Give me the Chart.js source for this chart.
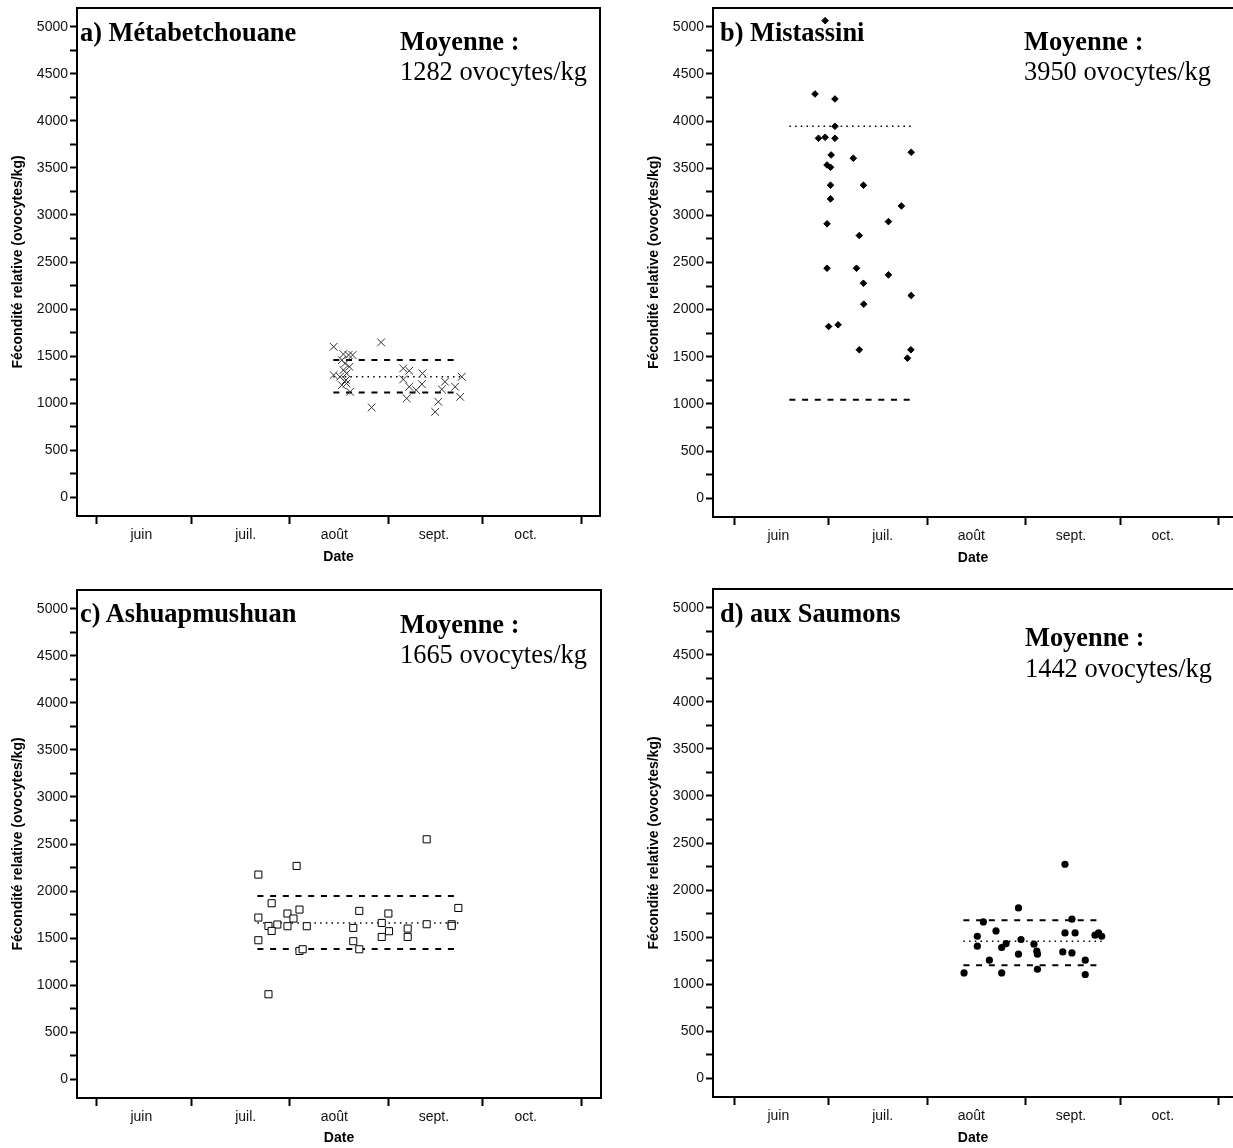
<!DOCTYPE html>
<html lang="fr">
<head>
<meta charset="UTF-8">
<title>Fécondité relative</title>
<script src="https://cdn.jsdelivr.net/npm/chart.js"></script>
<style>
  body {
    margin: 0;
    background: #fff;
    overflow: hidden;
    width: 1233px;
    height: 1148px;
    position: relative;
  }
  .panel { position: absolute; }
  .panel canvas { display: block; }
  .lbl {
    position: absolute;
    font-family: 'Liberation Serif', 'Times New Roman', serif;
    font-size: 26.4px;
    line-height: 26px;
    color: #000;
    white-space: nowrap;
  }
  .gras { font-weight: bold; }
</style>
</head>
<body>

<div class="panel" style="left:0;top:0"><canvas id="gA" width="616" height="576"></canvas></div>
<div class="panel" style="left:636px;top:0"><canvas id="gB" width="597" height="577"></canvas></div>
<div class="panel" style="left:0;top:582px"><canvas id="gC" width="617" height="566"></canvas></div>
<div class="panel" style="left:636px;top:581px"><canvas id="gD" width="597" height="566"></canvas></div>

<div class="lbl gras" style="left:80px;top:19px">a) Métabetchouane</div>
<div class="lbl gras" style="left:400px;top:28px">Moyenne :</div>
<div class="lbl" style="left:400px;top:58px">1282 ovocytes/kg</div>

<div class="lbl gras" style="left:720px;top:19px">b) Mistassini</div>
<div class="lbl gras" style="left:1024px;top:28px">Moyenne :</div>
<div class="lbl" style="left:1024px;top:58px">3950 ovocytes/kg</div>

<div class="lbl gras" style="left:80px;top:600px">c) Ashuapmushuan</div>
<div class="lbl gras" style="left:400px;top:611px">Moyenne :</div>
<div class="lbl" style="left:400px;top:641px">1665 ovocytes/kg</div>

<div class="lbl gras" style="left:720px;top:600px">d) aux Saumons</div>
<div class="lbl gras" style="left:1025px;top:624px">Moyenne :</div>
<div class="lbl" style="left:1025px;top:655px">1442 ovocytes/kg</div>

<script>
  // axe des dates : jours depuis le 1er juin
  const mois = ['juin', 'juil.', 'août', 'sept.', 'oct.'];
  const debutsMois = [0, 30, 61, 92, 122, 153];
  const milieuxMois = [14, 47, 75, 106.5, 135.5];

  // a) Métabetchouane
  const metJours = [74.8, 77.9, 79.5, 80.8, 77.4, 78.4, 79.8, 77.9, 78.9, 74.8, 76.8, 78.7, 77.4, 78.9, 80.0,
    89.8, 86.8, 96.8, 98.7, 96.8, 102.9, 98.7, 100.9, 102.7, 97.9, 110.0, 109.0, 113.2, 107.9, 106.9, 115.3, 114.8];
  const metFec = [1599, 1521, 1511, 1511, 1457, 1422, 1386, 1351, 1316, 1298, 1280, 1245, 1191, 1209, 1120,
    1646, 954, 1369, 1344, 1252, 1316, 1174, 1138, 1202, 1050, 1227, 1146, 1174, 1014, 907, 1280, 1067];
  const metEtendue = [74.7, 114.8];
  const metNiveaux = [1114, 1280, 1457]; // bas, moyenne, haut

  // b) Mistassini
  const misJours = [28.8, 25.6, 31.9, 31.9, 26.7, 28.8, 31.9, 30.7, 37.7, 56.0, 29.4, 30.5, 30.5, 40.9, 30.5,
    52.9, 29.4, 48.8, 39.6, 29.4, 38.7, 48.8, 40.9, 56.0, 41.0, 29.9, 32.9, 39.6, 55.9, 54.8];
  const misFec = [5066, 4288, 4235, 3945, 3818, 3828, 3818, 3641, 3606, 3669, 3535, 3510, 3320, 3320, 3175,
    3100, 2910, 2934, 2786, 2439, 2439, 2369, 2280, 2150, 2058, 1821, 1839, 1574, 1574, 1485];
  const misEtendue = [17.5, 56.2];
  const misNiveaux = [1043, 3945, null];

  // c) Ashuapmushuan
  const ashJours = [104.2, 63.1, 51.0, 55.2, 64.0, 60.2, 82.9, 92.1, 114.2, 51.0, 62.1, 54.2, 57.0, 60.2, 66.3,
    55.2, 90.0, 81.0, 98.2, 104.2, 112.1, 112.1, 92.3, 90.0, 98.2, 51.0, 81.0, 64.0, 65.0, 82.9, 54.2];
  const ashFec = [2550, 2267, 2175, 1870, 1803, 1761, 1789, 1761, 1820, 1718, 1708, 1629, 1644, 1626, 1626,
    1576, 1661, 1608, 1601, 1647, 1647, 1630, 1573, 1512, 1512, 1477, 1467, 1363, 1381, 1381, 903];
  const ashEtendue = [50.7, 114.5];
  const ashNiveaux = [1385, 1661, 1948];

  // d) aux Saumons
  const sauJours = [104.6, 89.9, 78.8, 106.8, 82.8, 76.9, 104.6, 107.8, 114.1, 115.2, 116.2, 90.7, 76.9, 84.6,
    86.0, 94.8, 95.7, 95.9, 89.9, 103.9, 106.8, 80.7, 111.0, 95.9, 72.7, 84.6, 111.0];
  const sauFec = [2274, 1810, 1661, 1690, 1565, 1509, 1544, 1544, 1520, 1544, 1509, 1474, 1403, 1389,
    1431, 1424, 1350, 1318, 1318, 1342, 1332, 1254, 1254, 1158, 1119, 1119, 1102];
  const sauEtendue = [72.5, 116.2];
  const sauNiveaux = [1201, 1456, 1679];

  const yGraduations = [];
  for (let v = 0; v <= 5000; v += 250) yGraduations.push(v);

  const policeAxe = "'Liberation Sans', Arial, sans-serif";

  // cadre du haut (et de droite si visible)
  const cadre = {
    id: 'cadre',
    afterDraw(chart, args, opts) {
      const { left, top, right, bottom } = chart.chartArea;
      const ctx = chart.ctx;
      ctx.save();
      ctx.strokeStyle = '#000';
      ctx.lineWidth = 2;
      ctx.beginPath();
      ctx.moveTo(left, top);
      ctx.lineTo(right, top);
      if (opts.droite) ctx.lineTo(right, bottom);
      ctx.stroke();
      ctx.restore();
    }
  };

  function ligne(etendue, v, tirets, epaisseur) {
    return {
      data: etendue.map(x => ({ x: x, y: v })),
      showLine: true,
      pointRadius: 0,
      borderColor: '#000',
      borderWidth: epaisseur,
      borderDash: tirets
    };
  }

  function jeux(xs, ys, etendue, niveaux, style) {
    const points = xs.map((x, i) => ({ x: x, y: ys[i] }));
    const ds = [Object.assign({ data: points, showLine: false }, style)];
    const [bas, moy, haut] = niveaux;
    if (moy != null) ds.push(ligne(etendue, moy, [1.5, 4.2], 1.5));
    [bas, haut].forEach(v => {
      if (v != null) ds.push(ligne(etendue, v, [6, 6.7], 2));
    });
    return ds;
  }

  function graphique(id, datasets, cfg) {
    return new Chart(document.getElementById(id), {
      type: 'scatter',
      data: { datasets: datasets },
      options: {
        responsive: false,
        animation: false,
        layout: {
          autoPadding: false,
          padding: { top: 8, right: cfg.droite ? 16 : 0, left: 0, bottom: 0 }
        },
        plugins: {
          legend: { display: false },
          tooltip: { enabled: false },
          cadre: { droite: cfg.droite }
        },
        scales: {
          x: {
            type: 'linear',
            min: cfg.xMin,
            max: cfg.xMax,
            afterBuildTicks: s => {
              s.ticks = debutsMois.concat(milieuxMois).sort((a, b) => a - b).map(v => ({ value: v }));
            },
            afterFit: s => {
              s.height = cfg.hauteurX;
              s.paddingLeft = 0;
              s.paddingRight = 0;
            },
            ticks: {
              autoSkip: false,
              maxRotation: 0,
              padding: 3,
              color: '#111',
              font: { family: policeAxe, size: 14 },
              callback: v => {
                const i = milieuxMois.indexOf(v);
                return i >= 0 ? mois[i] : '';
              }
            },
            grid: {
              drawOnChartArea: false,
              drawTicks: true,
              tickLength: 8,
              tickWidth: 2,
              tickColor: c => (c.tick && debutsMois.includes(c.tick.value)) ? '#000' : 'rgba(0,0,0,0)'
            },
            border: { display: true, color: '#000', width: 2 },
            title: {
              display: true,
              text: 'Date',
              color: '#000',
              font: { family: policeAxe, size: 14, weight: 'bold' },
              padding: { top: 0, bottom: cfg.padDate }
            }
          },
          y: {
            min: -200,
            max: 5200,
            afterBuildTicks: s => {
              s.ticks = yGraduations.map(v => ({ value: v }));
            },
            afterFit: s => {
              s.width = 77;
              s.paddingTop = 0;
              s.paddingBottom = 0;
            },
            ticks: {
              padding: 2,
              color: '#111',
              font: { family: policeAxe, size: 14 },
              callback: v => (v % 500 === 0 ? String(v) : '')
            },
            grid: {
              drawOnChartArea: false,
              drawTicks: true,
              tickLength: 7,
              tickWidth: 2,
              tickColor: '#000'
            },
            border: { display: true, color: '#000', width: 2 },
            title: {
              display: true,
              text: 'Fécondité relative (ovocytes/kg)',
              color: '#000',
              font: { family: policeAxe, size: 14, weight: 'bold' },
              padding: { top: 10, bottom: 0 }
            }
          }
        }
      },
      plugins: [cadre]
    });
  }

  graphique('gA', jeux(metJours, metFec, metEtendue, metNiveaux, {
    pointStyle: 'crossRot', pointRadius: 5.5, pointBorderColor: '#333', pointBorderWidth: 1,
    pointBackgroundColor: 'rgba(0,0,0,0)'
  }), { xMin: -6.32, xMax: 159.0, droite: true, hauteurX: 60, padDate: 10 });

  graphique('gB', jeux(misJours, misFec, misEtendue, misNiveaux, {
    pointStyle: 'rectRot', pointRadius: 3.3, pointBorderColor: '#000', pointBorderWidth: 1,
    pointBackgroundColor: '#000'
  }), { xMin: -6.64, xMax: 157.7, droite: false, hauteurX: 60, padDate: 10 });

  graphique('gC', jeux(ashJours, ashFec, ashEtendue, ashNiveaux, {
    pointStyle: 'rect', pointRadius: 5, pointBorderColor: '#000', pointBorderWidth: 1,
    pointBackgroundColor: '#fff'
  }), { xMin: -6.32, xMax: 159.3, droite: true, hauteurX: 50, padDate: 1 });

  graphique('gD', jeux(sauJours, sauFec, sauEtendue, sauNiveaux, {
    pointStyle: 'circle', pointRadius: 3.6, pointBorderColor: '#000', pointBorderWidth: 0,
    pointBackgroundColor: '#000'
  }), { xMin: -6.64, xMax: 157.7, droite: false, hauteurX: 50, padDate: 0 });
</script>
</body>
</html>
